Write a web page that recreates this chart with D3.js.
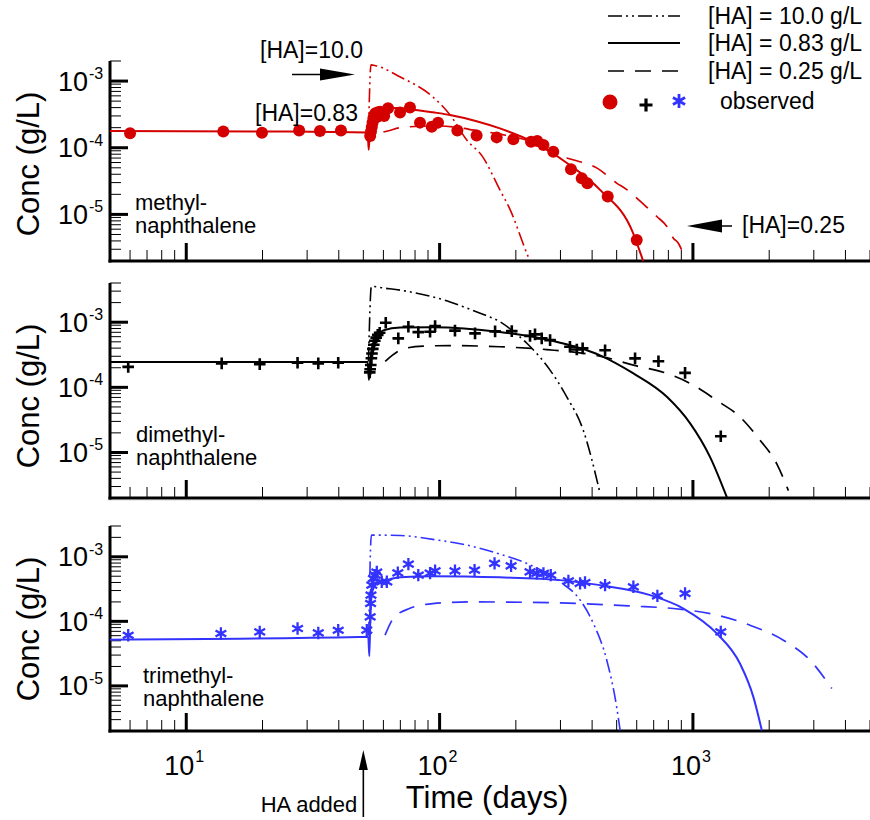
<!DOCTYPE html>
<html><head><meta charset="utf-8">
<script src="https://cdn.jsdelivr.net/npm/d3@7"></script>
<style>
body{margin:0;background:#fff}
text{font-family:"Liberation Sans",Arial,Helvetica,sans-serif;fill:#000}
</style>
</head><body>
<svg id="chart" width="870" height="820"></svg>
<script>
// ---------------- DATA ----------------
const xDomain = [5, 5000];
const xTickExponents = [1, 2, 3];
const yTickExponents = [-3, -4, -5];
const legendLabels = ["[HA] = 10.0 g/L", "[HA] = 0.83 g/L", "[HA] = 0.25 g/L"];
const observedLabel = "observed";
const compoundLabels = [["methyl-", "naphthalene"], ["dimethyl-", "naphthalene"], ["trimethyl-", "naphthalene"]];
const yAxisTitle = "Conc (g/L)";
const xAxisTitle = "Time (days)";
const haAddedLabel = "HA added";
const haAddedTime = 50;

// methyl-naphthalene  [time (days), conc (g/L)]
const methylHA10 = [[52.4,1.7e-4],[53.6,1.75e-3],[56,1.7e-3],[70,1.15e-3],[94,5.8e-4],[110,3.1e-4],[128,1.31e-4],[148,7.3e-5],[173,2.33e-5],[190,1.17e-5],[221,2.6e-6],[225,2.2e-6]];
const methylHA083 = [[5,1.78e-4],[25,1.75e-4],[52,1.69e-4],[52.5,9.3e-5],[53.1,1.9e-4],[54,2.9e-4],[56,3.5e-4],[60,3.85e-4],[68,3.95e-4],[78,3.75e-4],[94,3.4e-4],[110,3.1e-4],[140,2.5e-4],[173,1.95e-4],[234,1.22e-4],[318,5.9e-5],[430,2.33e-5],[580,5.3e-6],[636,2e-6]];
const methylHA025 = [[60,1.72e-4],[63,1.8e-4],[70,2.0e-4],[85,2.1e-4],[100,2.12e-4],[125,1.95e-4],[135,1.85e-4],[173,1.6e-4],[234,1.2e-4],[290,7.8e-5],[336,6.6e-5],[420,4.9e-5],[500,2.95e-5],[548,2.35e-5],[600,1.75e-5],[655,1.3e-5],[720,9.3e-6],[789,6.6e-6],[837,4.4e-6],[876,3.7e-6],[917,2.6e-6],[948,2.2e-6]];
const methylObs = [[6.0,1.65e-4],[14.0,1.75e-4],[19.9,1.68e-4],[27.9,1.82e-4],[33.7,1.78e-4],[40.8,1.82e-4],
  [53.2,1.5e-4],[53.6,1.75e-4],[54.0,2.05e-4],[54.4,2.4e-4],[54.8,2.8e-4],[55.3,3.1e-4],[55.8,3.3e-4],[56.5,2.9e-4],[57.2,3.4e-4],
  [58.2,3.48e-4],[60.4,3.0e-4],[62.6,3.9e-4],[69.8,3.38e-4],[76.4,4.0e-4],[83.7,2.38e-4],[93.1,2.07e-4],[98.6,2.38e-4],[117.5,1.82e-4],[140,1.53e-4],[168,1.43e-4],[195.5,1.34e-4],[229.6,1.23e-4],[243,1.26e-4],[257,1.1e-4],[281,8.7e-5],[330,4.75e-5],[364,3.48e-5],[383,2.93e-5],[461,1.85e-5],[600,4.14e-6]];

// dimethyl-naphthalene
const dimethylHA10 = [[52.4,2.5e-4],[53.8,3.55e-3],[60,3.35e-3],[70,3.1e-3],[94,2.45e-3],[110,2.05e-3],[128,1.65e-3],[150,1.3e-3],[173,1.02e-3],[197,7.05e-4],[221,4.75e-4],[273,1.84e-4],[318,7.1e-5],[369,2.2e-5],[430,2.36e-6]];
const dimethylHA083 = [[5,2.46e-4],[52,2.46e-4],[52.6,1.3e-4],[53.5,3.0e-4],[54.5,4.5e-4],[56.5,6.0e-4],[60,7.5e-4],[70,8.3e-4],[94,8.4e-4],[173,7.1e-4],[273,5.3e-4],[430,3.1e-4],[580,1.65e-4],[791,7.1e-5],[975,2.8e-5],[1169,8.5e-6],[1361,2.06e-6]];
const dimethylHA025 = [[61,2.5e-4],[65,3.1e-4],[72,3.9e-4],[86,4.3e-4],[110,4.37e-4],[173,4.2e-4],[265,3.8e-4],[443,2.94e-4],[582,2.19e-4],[791,1.63e-4],[975,1.15e-4],[1242,6.3e-5],[1535,3.5e-5],[1841,1.54e-5],[2143,6.7e-6],[2382,2.6e-6]];
const dimethylObs = [[5.9,2.06e-4],[13.8,2.33e-4],[19.5,2.27e-4],[27.5,2.38e-4],[33.2,2.33e-4],[39.8,2.38e-4],
  [53.0,1.7e-4],[53.2,1.9e-4],[53.5,2.2e-4],[53.8,2.8e-4],[54.1,3.3e-4],[54.5,3.9e-4],[55.0,4.5e-4],[55.5,5.2e-4],[56.2,5.8e-4],[57.0,6.4e-4],[58.0,6.9e-4],
  [61.3,9.8e-4],[68.7,5.64e-4],[75.3,8.5e-4],[82.4,7.05e-4],[91.7,7.13e-4],[96,8.72e-4],[115,7.44e-4],[138,6.73e-4],[165.6,7.23e-4],[192.7,7.3e-4],[227.5,6.18e-4],[238,6.5e-4],[253,5.64e-4],[273,5.3e-4],[327,4.19e-4],[348,3.82e-4],[367,3.96e-4],[450,3.72e-4],[591,2.78e-4],[731,2.52e-4],[931,1.67e-4],[1288,1.77e-5]];

// trimethyl-naphthalene
const trimethylHA10 = [[52.5,6e-5],[53.8,2.17e-3],[70,2.14e-3],[94,1.86e-3],[128,1.52e-3],[173,1.1e-3],[221,7.9e-4],[299,4.1e-4],[359,2.13e-4],[405,9.2e-5],[457,2.5e-5],[500,4.7e-6],[516,2.04e-6]];
const trimethylHA083 = [[5,5.2e-5],[48,5.7e-5],[52.3,5.75e-5],[52.8,2.9e-5],[53.3,1.2e-4],[54,2.7e-4],[56.5,3.87e-4],[62,4.35e-4],[70,4.8e-4],[94,5.0e-4],[173,4.8e-4],[299,4.35e-4],[430,3.64e-4],[678,2.55e-4],[917,1.58e-4],[1242,6.5e-5],[1535,2.2e-5],[1733,6.7e-6],[1871,2.04e-6]];
const trimethylHA025 = [[60.9,6.1e-5],[65.7,1.11e-4],[76,1.58e-4],[94,1.88e-4],[132,2.0e-4],[299,1.93e-4],[582,1.72e-4],[837,1.58e-4],[1242,1.25e-4],[1681,8.7e-5],[2275,5.1e-5],[2900,2.5e-5],[3533,9.1e-6]];
const trimethylObs = [[5.9,6.09e-5],[13.7,6.48e-5],[19.5,6.86e-5],[27.5,7.74e-5],[33.2,6.61e-5],[39.8,7.28e-5],
  [51.6,7.3e-5],[53.2,1.17e-4],[53.4,1.89e-4],[53.6,2.55e-4],[54.0,3.64e-4],[54.8,4.61e-4],[55.7,5.2e-4],[56.5,5.8e-4],[59.1,4.1e-4],[61.9,4.1e-4],
  [68.4,5.65e-4],[75.3,7.71e-4],[82.4,5.2e-4],[91.7,5.59e-4],[96,6.07e-4],[115,6.07e-4],[137.4,6.22e-4],[164.8,7.9e-4],[191.5,7.25e-4],[227.5,5.85e-4],[242,5.53e-4],[257,5.53e-4],[274.7,5.2e-4],[322.5,4.24e-4],[358.6,3.87e-4],[375,4.0e-4],[450,3.64e-4],[582,3.43e-4],[724,2.48e-4],[931,2.7e-4],[1288,6.86e-5]];

// ---------------- LAYOUT ----------------
const RED = "#d40000", BLACK = "#000", BLUE = "#3333ff";
const DASHDOT = "14,4,2,4,2,4", DASHED = "16,11";
const svg = d3.select("#chart");
const xLeft = 110, xRight = 870;
const x = d3.scaleLog().domain(xDomain).range([xLeft, xRight]);

const panels = [
  {yDomain:[2e-6,2e-3], top:61, bottom:261, color:RED, marker:"circle", labelCenter:164,
   series:[methylHA10, methylHA083, methylHA025], obs:methylObs, names:compoundLabels[0], nameX:135, nameY:210},
  {yDomain:[2e-6,4e-3], top:283, bottom:498, color:BLACK, marker:"plus", labelCenter:396,
   series:[dimethylHA10, dimethylHA083, dimethylHA025], obs:dimethylObs, names:compoundLabels[1], nameX:136, nameY:442},
  {yDomain:[2e-6,3e-3], top:526, bottom:731, color:BLUE, marker:"star", labelCenter:629,
   series:[trimethylHA10, trimethylHA083, trimethylHA025], obs:trimethylObs, names:compoundLabels[2], nameX:143, nameY:683}
];
const styles = [
  {dash:DASHDOT, width:1.6},
  {dash:null, width:2},
  {dash:DASHED, width:1.7}
];

function markerPath(type, r){
  if(type==="plus") return `M${-r},0H${r}M0,${-r}V${r}`;
  const c = r*Math.cos(Math.PI/6), s = r*Math.sin(Math.PI/6);
  return `M0,${-r}V${r}M${-c},${-s}L${c},${s}M${-c},${s}L${c},${-s}`;
}
function drawMarker(g, type, cx, cy, color, big){
  if(type==="circle"){
    g.append("circle").attr("cx",cx).attr("cy",cy).attr("r", big?7.5:6).attr("fill",color);
  } else if(type==="plus"){
    g.append("path").attr("d",markerPath("plus", big?6.5:5.8)).attr("transform",`translate(${cx},${cy})`)
      .attr("stroke",color).attr("stroke-width",big?3.2:2.6).attr("fill","none");
  } else {
    g.append("path").attr("d",markerPath("star", big?7:6.2)).attr("transform",`translate(${cx},${cy})`)
      .attr("stroke",color).attr("stroke-width",big?2.8:2.3).attr("fill","none");
  }
}
const isMajor = v => Math.abs(Math.log10(v) - Math.round(Math.log10(v))) < 1e-9;

// faint separator above bottom panel
svg.append("line").attr("x1",107).attr("x2",870).attr("y1",500.5).attr("y2",500.5).attr("stroke","#ececec").attr("stroke-width",1);

panels.forEach((p, pi) => {
  const y = d3.scaleLog().domain(p.yDomain).range([p.bottom, p.top]);
  const g = svg.append("g");

  // y ticks
  y.ticks().forEach(v => {
    const maj = isMajor(v);
    const yy = y(v);
    g.append("line").attr("x1",xLeft).attr("x2",xLeft + (maj?18:11)).attr("y1",yy).attr("y2",yy)
      .attr("stroke","#000").attr("stroke-width",maj?3:1);
  });
  // x ticks
  x.ticks().forEach(v => {
    const maj = isMajor(v);
    const xx = x(v);
    g.append("line").attr("x1",xx).attr("x2",xx).attr("y1",p.bottom).attr("y2",p.bottom - (maj?18:11))
      .attr("stroke","#000").attr("stroke-width",maj?3:1);
  });
  // axis lines
  g.append("line").attr("x1",xLeft).attr("x2",xLeft).attr("y1",p.top).attr("y2",p.bottom+1.5).attr("stroke","#000").attr("stroke-width",3);
  g.append("line").attr("x1",xLeft-1.5).attr("x2",xRight).attr("y1",p.bottom).attr("y2",p.bottom).attr("stroke","#000").attr("stroke-width",3);

  // y tick labels
  yTickExponents.forEach(e => {
    const yy = y(Math.pow(10, e));
    g.append("text").attr("x",88).attr("y",yy+9.5).attr("text-anchor","end").attr("font-size",27).text("10");
    g.append("text").attr("x",89).attr("y",yy-2).attr("font-size",16).text(String(e));
  });
  // y title
  g.append("text").attr("transform",`translate(39,${p.labelCenter}) rotate(-90)`).attr("text-anchor","middle")
    .attr("font-size",31).text(yAxisTitle);

  // model lines
  const line = d3.line().x(d => x(d[0])).y(d => y(d[1])).curve(d3.curveMonotoneX);
  p.series.forEach((s, si) => {
    g.append("path").attr("d", line(s)).attr("fill","none").attr("stroke",p.color)
      .attr("stroke-width",styles[si].width).attr("stroke-dasharray",styles[si].dash)
      .attr("stroke-linejoin","round");
  });
  // observed
  p.obs.forEach(d => drawMarker(g, p.marker, x(d[0]), y(d[1]), p.color, false));

  // compound label
  g.append("text").attr("x",p.nameX).attr("y",p.nameY).attr("font-size",22).text(p.names[0]);
  g.append("text").attr("x",p.nameX).attr("y",p.nameY+23).attr("font-size",22).text(p.names[1]);
});

// x tick labels (bottom panel)
const xlab = svg.append("g");
xTickExponents.forEach(e => {
  const xx = x(Math.pow(10, e));
  xlab.append("text").attr("x",xx+8).attr("y",775).attr("text-anchor","end").attr("font-size",27).text("10");
  xlab.append("text").attr("x",xx+9).attr("y",762).attr("font-size",16).text(String(e));
});
xlab.append("text").attr("x",487).attr("y",808).attr("text-anchor","middle").attr("font-size",31).text(xAxisTitle);

// HA added arrow
const xa = x(haAddedTime);
xlab.append("line").attr("x1",xa).attr("x2",xa).attr("y1",817).attr("y2",766).attr("stroke","#000").attr("stroke-width",1.6);
xlab.append("path").attr("d",`M${xa},750L${xa-4.5},770L${xa+4.5},770Z`).attr("fill","#000");
xlab.append("text").attr("x",xa-6).attr("y",812).attr("text-anchor","end").attr("font-size",22).text(haAddedLabel);

// annotations panel 1
const ann = svg.append("g");
ann.append("text").attr("x",260).attr("y",58).attr("font-size",23).text("[HA]=10.0");
ann.append("line").attr("x1",292).attr("x2",322).attr("y1",74.5).attr("y2",74.5).attr("stroke","#000").attr("stroke-width",1.5);
ann.append("path").attr("d","M320,68.5L355,74.5L320,80.5Z").attr("fill","#000");
ann.append("text").attr("x",255).attr("y",121).attr("font-size",23).text("[HA]=0.83");
ann.append("text").attr("x",742).attr("y",233).attr("font-size",23).text("[HA]=0.25");
ann.append("path").attr("d","M687,226L722,219.5L722,232.5Z").attr("fill","#000");
ann.append("line").attr("x1",720).attr("x2",732).attr("y1",226).attr("y2",226).attr("stroke","#000").attr("stroke-width",1.5);

// legend
const leg = svg.append("g");
const legY = [16, 43, 71];
legendLabels.forEach((lab, i) => {
  leg.append("line").attr("x1",608).attr("x2",680).attr("y1",legY[i]).attr("y2",legY[i])
    .attr("stroke","#000").attr("stroke-width",styles[i].width).attr("stroke-dasharray",styles[i].dash);
  leg.append("text").attr("x",708).attr("y",legY[i]+8).attr("font-size",23).text(lab);
});
drawMarker(leg, "circle", 610, 102, RED, true);
drawMarker(leg, "plus", 646, 105, BLACK, true);
drawMarker(leg, "star", 679, 101, BLUE, true);
leg.append("text").attr("x",720).attr("y",109).attr("font-size",23).text(observedLabel);
</script>
</body></html>
